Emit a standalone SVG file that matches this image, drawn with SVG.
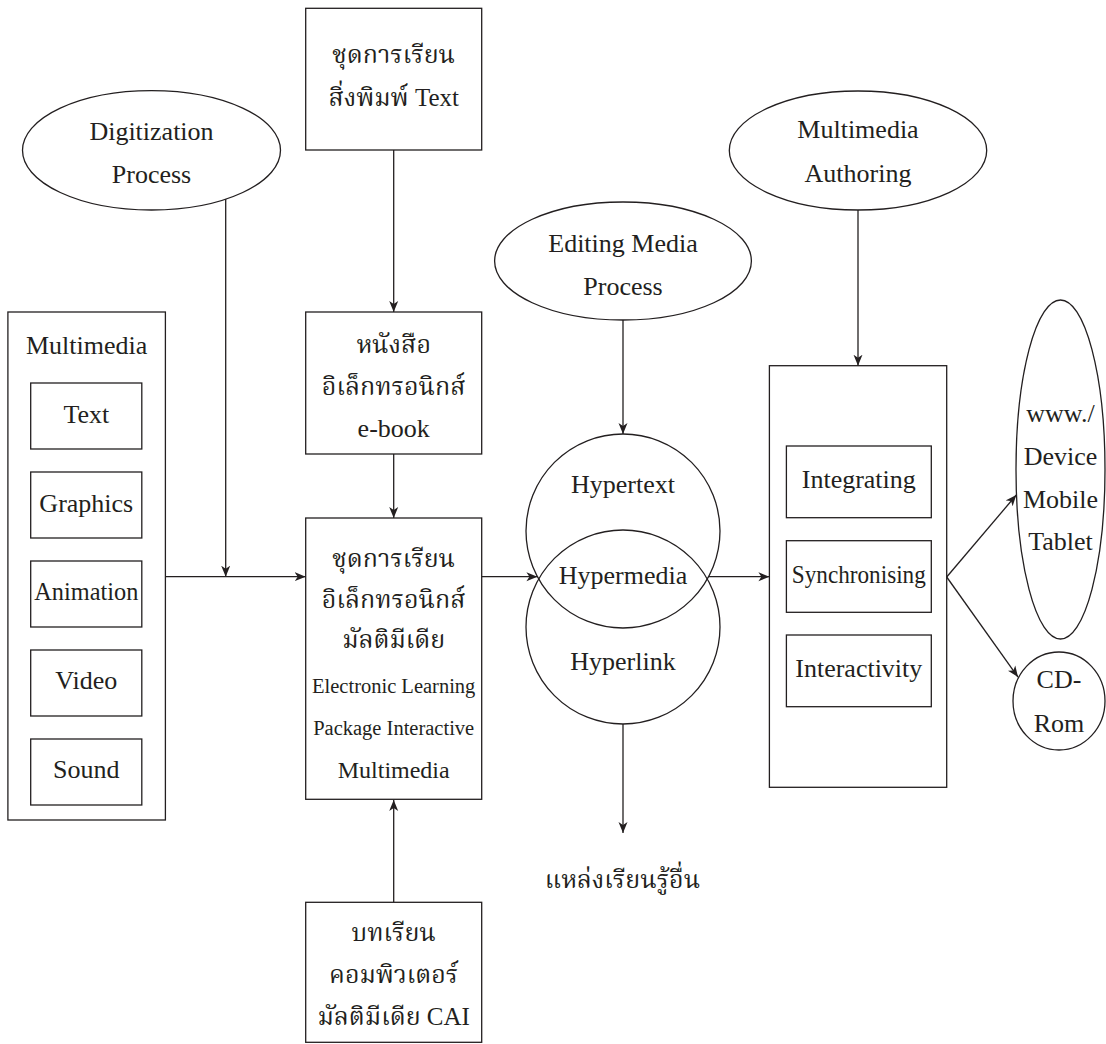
<svg xmlns="http://www.w3.org/2000/svg" width="1106" height="1044" viewBox="0 0 1106 1044">
<style>
.s{fill:none;stroke:#231f20;stroke-width:1.3}
.t{font-family:'Liberation Serif','Noto Serif Thai','Noto Sans Thai Looped','Noto Sans Thai',Norasi,Garuda,Loma,serif;font-size:26px;fill:#231f20;text-anchor:middle}
.th{font-size:25px}
.sm{font-size:20.5px}
.c{stroke:#231f20;stroke-width:1.3;fill:none}
</style>
<defs>
<marker id="ah" markerWidth="12" markerHeight="10" refX="11" refY="5" orient="auto" markerUnits="userSpaceOnUse">
<path d="M0,0.5 L11,5 L0,9.5 L3,5 z" fill="#231f20"/>
</marker>
</defs>
<rect width="1106" height="1044" fill="#fff"/>
<g id="connectors">
<line class="c" x1="225.7" y1="199" x2="225.7" y2="576.7" marker-end="url(#ah)"/>
<line class="c" x1="165.4" y1="576.7" x2="305.7" y2="576.7" marker-end="url(#ah)"/>
<line class="c" x1="393.7" y1="150" x2="393.7" y2="312" marker-end="url(#ah)"/>
<line class="c" x1="393.7" y1="454" x2="393.7" y2="518" marker-end="url(#ah)"/>
<line class="c" x1="393.7" y1="902" x2="393.7" y2="800" marker-end="url(#ah)"/>
<line class="c" x1="481.7" y1="576.7" x2="537.4" y2="576.7" marker-end="url(#ah)"/>
<line class="c" x1="623" y1="320" x2="623" y2="434" marker-end="url(#ah)"/>
<line class="c" x1="708.6" y1="576.7" x2="769.4" y2="576.7" marker-end="url(#ah)"/>
<line class="c" x1="858" y1="210" x2="858" y2="365.7" marker-end="url(#ah)"/>
<line class="c" x1="946.7" y1="577" x2="1016.3" y2="495" marker-end="url(#ah)"/>
<line class="c" x1="946.7" y1="577" x2="1018" y2="677" marker-end="url(#ah)"/>
<line class="c" x1="623" y1="724" x2="623" y2="833" marker-end="url(#ah)"/>
</g>
<g id="digitization">
<ellipse class="s" cx="151.5" cy="150.3" rx="129" ry="59.7"/>
<text class="t" x="151.5" y="140">Digitization</text>
<text class="t" x="151.5" y="183">Process</text>
</g>
<g id="print-course">
<rect class="s" x="305.7" y="8.3" width="176" height="141.7"/>
<text class="t th" x="393.7" y="63">ชุดการเรียน</text>
<text class="t th" x="393.7" y="106">สิ่งพิมพ์ Text</text>
</g>
<g id="ebook">
<rect class="s" x="305.7" y="312" width="176" height="142"/>
<text class="t th" x="393.7" y="353">หนังสือ</text>
<text class="t th" x="393.7" y="395">อิเล็กทรอนิกส์</text>
<text class="t" x="393.7" y="437">e-book</text>
</g>
<g id="elearning">
<rect class="s" x="305.7" y="518" width="176" height="281.3"/>
<text class="t th" x="393.7" y="567">ชุดการเรียน</text>
<text class="t th" x="393.7" y="608">อิเล็กทรอนิกส์</text>
<text class="t th" x="393.7" y="648">มัลติมีเดีย</text>
<text class="t sm" x="393.7" y="693">Electronic Learning</text>
<text class="t sm" x="393.7" y="735">Package Interactive</text>
<text class="t" x="393.7" y="778" style="font-size:24px">Multimedia</text>
</g>
<g id="cai">
<rect class="s" x="305.7" y="902.3" width="176" height="140"/>
<text class="t th" x="393.7" y="941">บทเรียน</text>
<text class="t th" x="393.7" y="983">คอมพิวเตอร์</text>
<text class="t th" x="393.7" y="1025">มัลติมีเดีย CAI</text>
</g>
<g id="multimedia">
<rect class="s" x="7.9" y="312" width="157.5" height="508"/>
<text class="t" x="86.6" y="354">Multimedia</text>
</g>
<g id="mm-text">
<rect class="s" x="30.7" y="383" width="111.1" height="66"/>
<text class="t" x="86.3" y="423">Text</text>
</g>
<g id="mm-graphics">
<rect class="s" x="30.7" y="472" width="111.1" height="66"/>
<text class="t" x="86.3" y="512">Graphics</text>
</g>
<g id="mm-animation">
<rect class="s" x="30.7" y="561" width="111.1" height="66"/>
<text class="t" x="86.3" y="600" textLength="104" lengthAdjust="spacingAndGlyphs">Animation</text>
</g>
<g id="mm-video">
<rect class="s" x="30.7" y="650" width="111.1" height="66"/>
<text class="t" x="86.3" y="689">Video</text>
</g>
<g id="mm-sound">
<rect class="s" x="30.7" y="739" width="111.1" height="66"/>
<text class="t" x="86.3" y="778">Sound</text>
</g>
<g id="editing">
<ellipse class="s" cx="623" cy="261" rx="128.4" ry="59"/>
<text class="t" x="623" y="252">Editing Media</text>
<text class="t" x="623" y="295">Process</text>
</g>
<g id="hypertext">
<circle class="s" cx="623" cy="531" r="97"/>
<text class="t" x="623" y="493">Hypertext</text>
</g>
<g id="hyperlink">
<circle class="s" cx="623" cy="627" r="97"/>
<text class="t" x="623" y="670">Hyperlink</text>
</g>
<g id="hypermedia">
<text class="t" x="623" y="584">Hypermedia</text>
</g>
<g id="other-sources">
<text class="t th" x="622.5" y="888">แหล่งเรียนรู้อื่น</text>
</g>
<g id="authoring">
<ellipse class="s" cx="858" cy="150.5" rx="128.7" ry="59.5"/>
<text class="t" x="858" y="138">Multimedia</text>
<text class="t" x="858" y="182">Authoring</text>
</g>
<g id="process-box">
<rect class="s" x="769.4" y="365.7" width="177.3" height="421.6"/>
</g>
<g id="integrating">
<rect class="s" x="786.4" y="446" width="144.9" height="71.7"/>
<text class="t" x="858.8" y="488">Integrating</text>
</g>
<g id="synchronising">
<rect class="s" x="786.4" y="540.7" width="144.9" height="71.6"/>
<text class="t" x="858.8" y="583" textLength="134" lengthAdjust="spacingAndGlyphs">Synchronising</text>
</g>
<g id="interactivity">
<rect class="s" x="786.4" y="635" width="144.9" height="71.7"/>
<text class="t" x="858.8" y="677">Interactivity</text>
</g>
<g id="web">
<ellipse class="s" cx="1060.5" cy="469.5" rx="44.5" ry="169.5"/>
<text class="t" x="1060.5" y="421.7">www./</text>
<text class="t" x="1060.5" y="465">Device</text>
<text class="t" x="1060.5" y="507.7">Mobile</text>
<text class="t" x="1060.5" y="550">Tablet</text>
</g>
<g id="cdrom">
<ellipse class="s" cx="1059" cy="701" rx="46" ry="49"/>
<text class="t" x="1059" y="688">CD-</text>
<text class="t" x="1059" y="731.7">Rom</text>
</g>
</svg>
